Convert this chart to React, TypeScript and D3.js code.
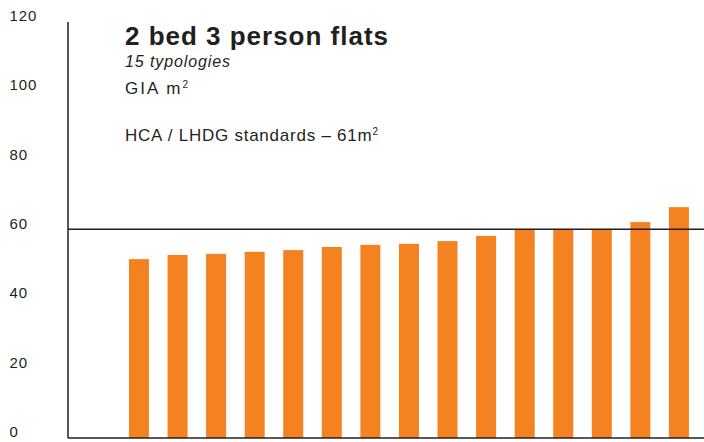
import React from "react";
import * as d3 from "d3";

const categories = ["T1","T2","T3","T4","T5","T6","T7","T8","T9","T10","T11","T12","T13","T14","T15"];
const giaValues = [51.6, 52.8, 53.1, 53.7, 54.2, 55.1, 55.7, 56.0, 56.8, 58.3, 60.3, 60.3, 60.3, 62.3, 66.6];
const standardValue = 60.2;
const yTicks = [0, 20, 40, 60, 80, 100, 120];
const title = "2 bed 3 person flats";
const subtitle = "15 typologies";
const unitLabel = "GIA m";
const standardLabel = "HCA / LHDG standards \u2013 61m";

const W = 704, H = 442;
const X0 = 68, BASE = 438, TOP = 22;
const ORANGE = "#F58220";
const INK = "#231f20";
const FONT = "'Liberation Sans', Arial, Helvetica, sans-serif";

export default function App() {
  const x = d3.scaleBand<string>().domain(categories).range([110.4, 707.5]).padding(0.4815);
  const y = d3.scaleLinear().domain([0, 120]).range([BASE, TOP]);
  return (
    <svg width={W} height={H} style={{ position: "absolute", left: 0, top: 0, background: "#fff" }} fontFamily={FONT}>
      {categories.map((c, i) => (
        <rect key={c} x={x(c)} y={y(giaValues[i])} width={x.bandwidth()} height={y(0) - y(giaValues[i])} fill={ORANGE} />
      ))}
      <line x1={X0} x2={W} y1={y(standardValue)} y2={y(standardValue)} stroke={INK} strokeWidth={1.5} />
      <line x1={X0} x2={X0} y1={y(120)} y2={y(0)} stroke={INK} strokeWidth={1.5} />
      <line x1={X0} x2={W} y1={y(0)} y2={y(0)} stroke={INK} strokeWidth={1.5} />
      {yTicks.map((t) => (
        <text key={t} x={9.5} y={y(t) - 1} fontSize={15} fill={INK} letterSpacing={0.9}>{t}</text>
      ))}
      <text x={125} y={45} fontSize={26} fontWeight="bold" fill={INK} textLength={263} lengthAdjust="spacing">{title}</text>
      <text x={125} y={67.3} fontSize={16} fontStyle="italic" fill={INK} textLength={105} lengthAdjust="spacing">{subtitle}</text>
      <text x={125} y={94} fontSize={17} fill={INK} textLength={63} lengthAdjust="spacing">{unitLabel}<tspan fontSize={10} dy={-6}>2</tspan></text>
      <text x={125} y={140.7} fontSize={17} fill={INK} textLength={253} lengthAdjust="spacing">{standardLabel}<tspan fontSize={10} dy={-6}>2</tspan></text>
    </svg>
  );
}
